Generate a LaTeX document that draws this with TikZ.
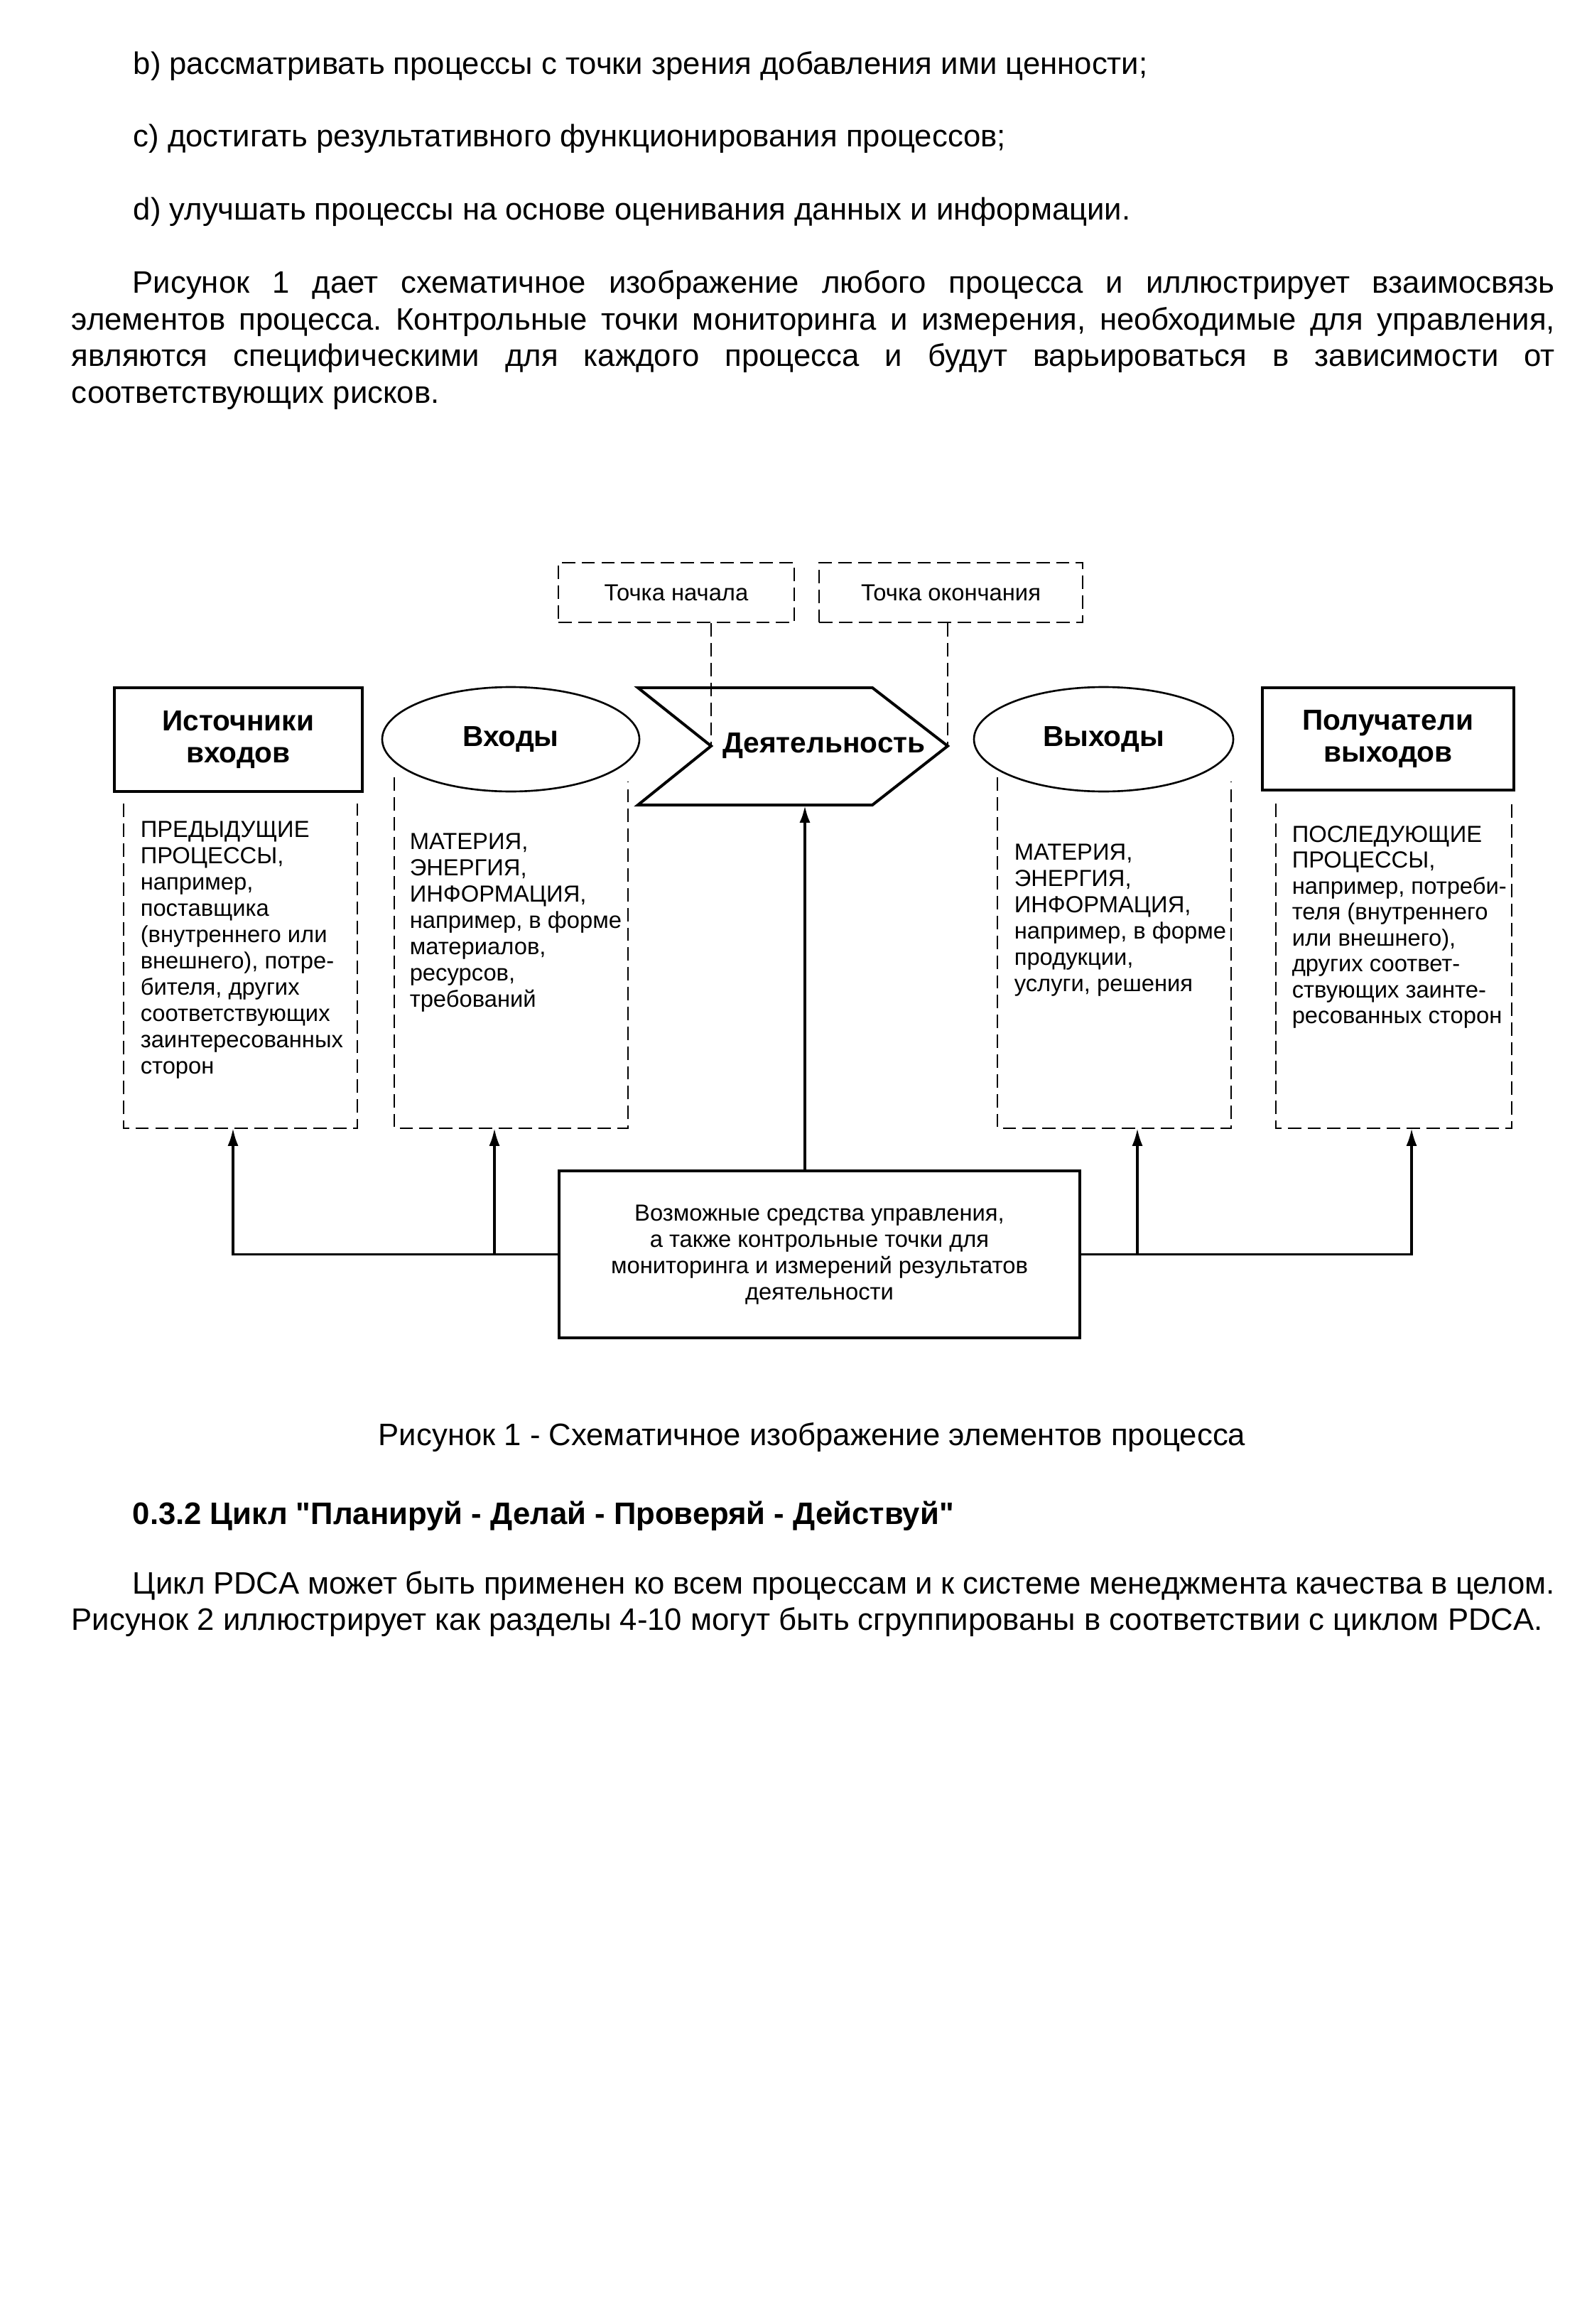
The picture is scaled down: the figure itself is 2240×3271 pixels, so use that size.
\documentclass[tikz,border=0pt]{standalone}
\usepackage{fontspec}
\setmainfont{Liberation Sans}[Ligatures=TeXOff]
\usetikzlibrary{arrows.meta,shapes.geometric}
\newdimen\px \px=0.2656pt
\frenchspacing
\begin{document}
\begin{tikzpicture}[x=0.2656pt,y=-0.2656pt,
  body/.style={font=\fontsize{11.6}{13.68}\selectfont, inner sep=0pt, anchor=base west},
  small/.style={font=\fontsize{8.7}{9.83}\selectfont, inner sep=0pt},
  ttl/.style={font=\fontsize{10.8}{11.95}\selectfont\bfseries, align=center},
  dbox/.style={line width=0.66pt, dash pattern=on 5pt off 2.4pt},
  solidbox/.style={draw, line width=1.06pt, rectangle, inner sep=0pt},
  oval/.style={draw, line width=0.7pt, ellipse, inner sep=0pt},
  conn/.style={line width=0.93pt, -{Latex[length=6.6pt,width=4pt]}},
]
\fill[white] (0,0) rectangle (2240,3271);
\useasboundingbox (0,0) rectangle (2240,3271);

% ---------- text above ----------
\node[body] (pb) at (187,105) {b) рассматривать процессы с точки зрения добавления ими ценности;};
\node[body] (pc) at (187,207) {c) достигать результативного функционирования процессов;};
\node[body] (pd) at (187,310) {d) улучшать процессы на основе оценивания данных и информации.};
\node[body] (p1) at (100,413) {\vtop{\baselineskip=51.5\px
  \hbox to 2088\px{\hskip86\px Рисунок 1 дает схематичное изображение любого процесса и иллюстрирует взаимосвязь}
  \hbox to 2088\px{элементов процесса. Контрольные точки мониторинга и измерения, необходимые для управления,}
  \hbox to 2088\px{являются специфическими для каждого процесса и будут варьироваться в зависимости от}
  \hbox{соответствующих рисков.}}};

% ---------- top dashed boxes ----------
\node[draw, dbox, rectangle, minimum width=88.18pt, minimum height=22.31pt, small] (start) at (952,834) {Точка начала};
\node[draw, dbox, rectangle, minimum width=98.54pt, minimum height=22.31pt, small] (finish) at (1338.5,834) {Точка окончания};

% ---------- main row ----------
\node[solidbox, minimum width=92.69pt, minimum height=38.78pt, ttl] (src) at (335.5,1041) {Источники\\входов};
\node[oval, minimum width=96.15pt, minimum height=39.04pt, ttl] (inp) at (719,1040.5) {Входы};
\coordinate (cTL) at (898,968);
\coordinate (cTR) at (1228,968);
\coordinate (tip) at (1334,1050);
\coordinate (cBR) at (1228,1133);
\coordinate (cBL) at (898,1133);
\coordinate (notch) at (1001,1050);
\draw[line width=1.06pt, line join=miter] (cTL) -- (cTR) -- (tip) -- (cBR) -- (cBL) -- (notch) -- cycle;
\node[ttl, inner sep=0pt] (act) at (1160,1050) {Деятельность};
\node[oval, minimum width=96.94pt, minimum height=39.04pt, ttl] (outp) at (1553.5,1040.5) {Выходы};
\node[solidbox, minimum width=94.02pt, minimum height=38.25pt, ttl] (rcv) at (1954,1040) {Получатели\\выходов};

\draw[dbox] (start.south -| notch) -- (notch);
\draw[dbox] (finish.south -| tip) -- (tip);

% ---------- dashed open boxes ----------
\draw[dbox] (174,1131) -- (174,1588) -- (503,1588) -- (503,1131);
\draw[dbox] (555,1094) -- (555,1588) -- (884,1588) -- (884,1100);
\draw[dbox] (1404,1094) -- (1404,1588) -- (1733,1588) -- (1733,1100);
\draw[dbox] (1796,1131) -- (1796,1588) -- (2128,1588) -- (2128,1131);
\coordinate (b1) at (328,1588);
\coordinate (b2) at (696,1588);
\coordinate (b4) at (1601,1588);
\coordinate (b5) at (1987,1588);

\node[small, anchor=base west] (t1) at (197,1178) {\vtop{%
  \hbox{ПРЕДЫДУЩИЕ}\hbox{ПРОЦЕССЫ,}\hbox{например,}\hbox{поставщика}%
  \hbox{(внутреннего или}\hbox{внешнего), потре-}\hbox{бителя, других}%
  \hbox{соответствующих}\hbox{заинтересованных}\hbox{сторон}}};
\node[small, anchor=base west] (t2) at (576,1195) {\vtop{%
  \hbox{МАТЕРИЯ,}\hbox{ЭНЕРГИЯ,}\hbox{ИНФОРМАЦИЯ,}\hbox{например, в форме}%
  \hbox{материалов,}\hbox{ресурсов,}\hbox{требований}}};
\node[small, anchor=base west] (t4) at (1427,1210) {\vtop{%
  \hbox{МАТЕРИЯ,}\hbox{ЭНЕРГИЯ,}\hbox{ИНФОРМАЦИЯ,}\hbox{например, в форме}%
  \hbox{продукции,}\hbox{услуги, решения}}};
\node[small, anchor=base west] (t5) at (1818,1185) {\vtop{\baselineskip=36.5\px
  \hbox{ПОСЛЕДУЮЩИЕ}\hbox{ПРОЦЕССЫ,}\hbox{например, потреби-}\hbox{теля (внутреннего}%
  \hbox{или внешнего),}\hbox{других соответ-}\hbox{ствующих заинте-}\hbox{ресованных сторон}}};

% ---------- control box ----------
\node[solidbox, minimum width=194.68pt, minimum height=62.42pt, small, align=center] (ctrl) at (1153.5,1765.5)
  {Возможные средства управления,\\а также контрольные точки для\\мониторинга и измерений результатов\\деятельности};
\coordinate (actbot) at (1133,1133);
\draw[line width=1.2pt, -{Latex[length=6.6pt,width=4pt]}] (ctrl.north -| actbot) -- (actbot);
\draw[conn] (ctrl.west) -| (b1);
\draw[conn] (ctrl.west -| b2) -- (b2);
\draw[conn] (ctrl.east) -| (b5);
\draw[conn] (ctrl.east -| b4) -- (b4);

% ---------- text below ----------
\node[body, anchor=base] (cap) at (1143,2034) {Рисунок 1 - Схематичное изображение элементов процесса};
\node[body, font=\fontsize{11.6}{13.68}\selectfont\bfseries] (hd) at (186,2145) {0.3.2 Цикл "Планируй - Делай - Проверяй - Действуй"};
\node[body] (p2) at (100,2243) {\vtop{\baselineskip=51.5\px
  \hbox to 2088\px{\hskip86\px Цикл PDCA может быть применен ко всем процессам и к системе менеджмента качества в целом.}
  \hbox{Рисунок 2 иллюстрирует как разделы 4-10 могут быть сгруппированы в соответствии с циклом PDCA.}}};
\end{tikzpicture}
\end{document}
